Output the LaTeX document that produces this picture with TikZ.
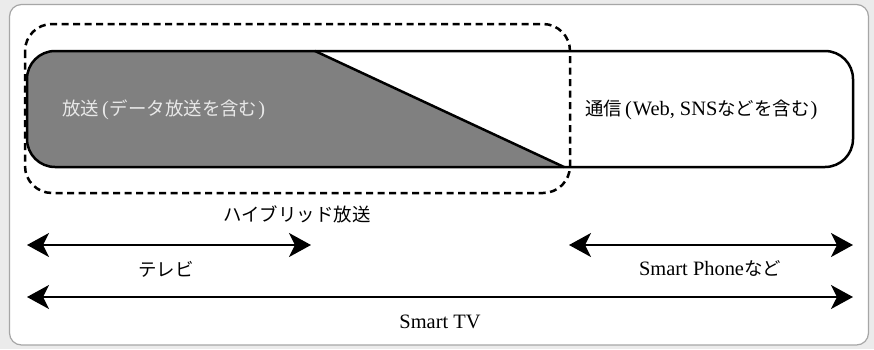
\documentclass[tikz,border=0pt]{standalone}
\usepackage{fontspec}
\setmainfont{Liberation Serif}
\newfontfamily\jpfont{Noto Sans CJK JP}
\newcommand{\jp}[1]{{\jpfont\fontsize{18.5}{20}\selectfont #1}}
\usetikzlibrary{arrows.meta}
\definecolor{outerbg}{HTML}{EBEBEB}
\definecolor{panelline}{HTML}{A6A6A6}
\definecolor{bcast}{HTML}{808080}
\definecolor{lighttext}{HTML}{E8E8E8}
\newcommand{\lp}{\hspace{3bp}(\hspace{1bp}}
\newcommand{\rp}{\hspace{1bp})}
\tikzset{
  lbl/.style={inner sep=0pt, font=\fontsize{20.5}{22}\selectfont},
  band/.style={draw=black, line width=2.5bp, rounded corners=28bp},
  hybrid/.style={draw=black, line width=2.5bp, dash pattern=on 7bp off 4.5bp, rounded corners=27bp},
  span/.style={draw=black, line width=1.8bp, {Stealth[length=22bp,width=24bp,inset=6bp]}-{Stealth[length=22bp,width=24bp,inset=6bp]}}
}
\begin{document}
\begin{tikzpicture}[x=1bp,y=-1bp]
\useasboundingbox (0,0) rectangle (874,349);
\fill[outerbg] (0,0) rectangle (874,349);
\draw[panelline, fill=white, line width=1.2bp, rounded corners=12bp] (9.5,4.5) rectangle (868.5,345);

% broadcast (gray) part
\fill[bcast, rounded corners=28bp] (315,51) -- (27,51) -- (27,167) -- (300,167) [sharp corners] -- (564,167) -- cycle;
\fill[bcast] (300,167) -- (564,167) -- (315,51) -- (200,51) -- cycle;
% outer band
\draw[band] (27,51) rectangle (853,167);
\coordinate (dtop) at (315,51);
\coordinate (dbot) at (564,167);
\draw[black, line width=2.5bp] (dtop) -- (dbot);

% hybrid dashed box
\draw[hybrid] (25,24) rectangle (570,193);

\node[lbl, anchor=west, text=lighttext] (bc) at (62,110) {\jp{放送}\lp\jp{データ放送を含む}\rp};
\node[lbl, anchor=west] (tc) at (585,110) {\jp{通信}\lp Web, SNS\jp{などを含む}\rp};
\node[lbl] (hy) at (297,214) {\jp{ハイブリッド放送}};

\coordinate (tvL) at (27,245);
\coordinate (tvR) at (311,245);
\coordinate (spL) at (569,245);
\coordinate (spR) at (853,245);
\coordinate (stL) at (27,297);
\coordinate (stR) at (853,297);
\draw[span] (tvL) -- (tvR);
\draw[span] (spL) -- (spR);
\draw[span] (stL) -- (stR);

\node[lbl] (tvlab) at (166,269) {\jp{テレビ}};
\node[lbl] (splab) at (710,268) {Smart Phone\jp{など}};
\node[lbl] (stlab) at (440,322) {Smart TV};
\end{tikzpicture}
\end{document}
